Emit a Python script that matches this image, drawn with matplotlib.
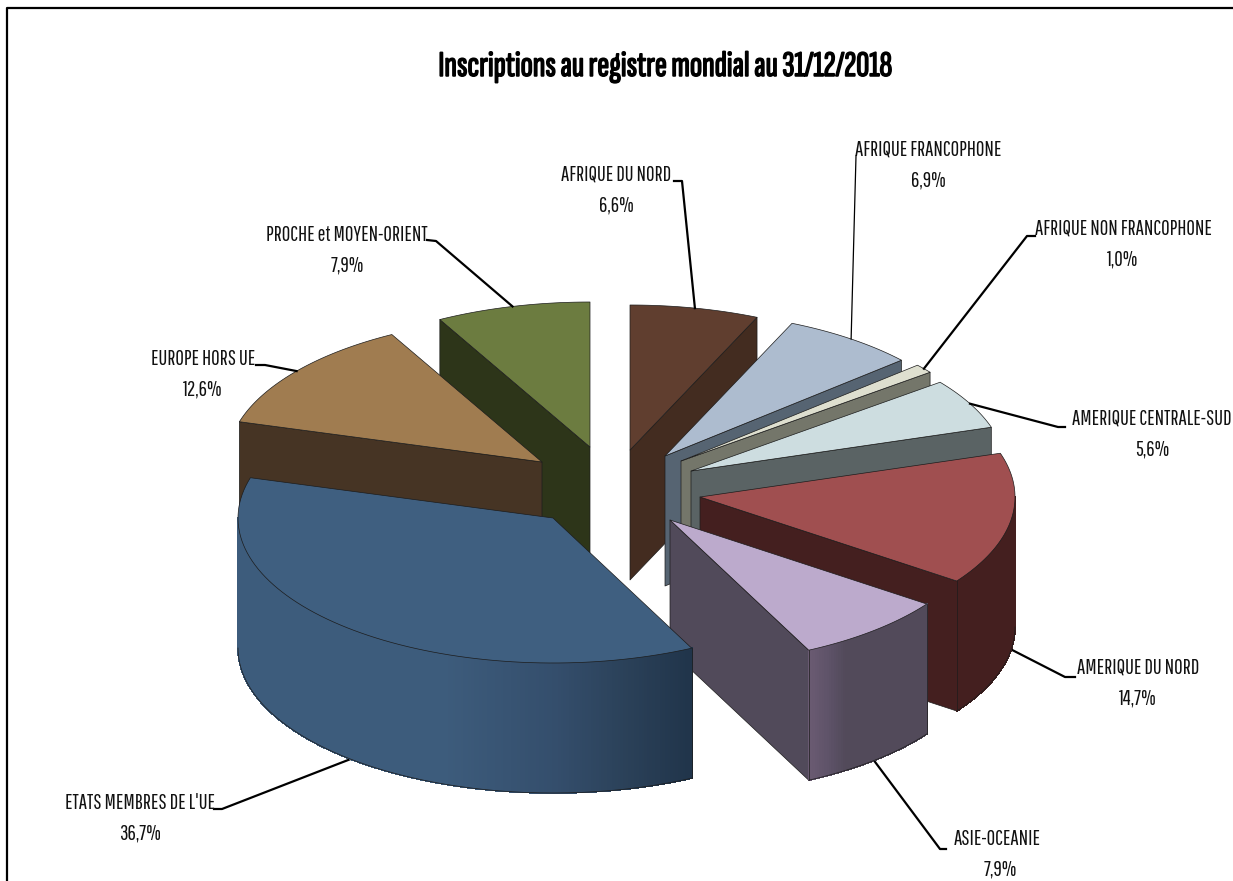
import numpy as np
import matplotlib
matplotlib.use("Agg")
import matplotlib.pyplot as plt
import matplotlib.patheffects as pe
from matplotlib.colors import to_rgb
from matplotlib.patches import Polygon

# Data, clockwise from 12 o'clock
regions = ["AFRIQUE DU NORD", "AFRIQUE FRANCOPHONE", "AFRIQUE NON FRANCOPHONE",
           "AMERIQUE CENTRALE-SUD", "AMERIQUE DU NORD", "ASIE-OCEANIE",
           "ETATS MEMBRES DE L'UE", "EUROPE HORS UE", "PROCHE et MOYEN-ORIENT"]
shares = [6.6, 6.9, 1.0, 5.6, 14.7, 7.9, 36.7, 12.6, 7.9]
share_labels = ["6,6%", "6,9%", "1,0%", "5,6%", "14,7%", "7,9%", "36,7%", "12,6%", "7,9%"]
title = "Inscriptions au registre mondial au 31/12/2018"

# Colours
top_colors = ["#603e2f", "#adbccf", "#dedfcf", "#cddde0", "#a04f50", "#bcaacc",
              "#3f5f80", "#a07c50", "#6c7c40"]
side_colors = ["#432c20", "#566472", "#74766a", "#5a6364", "#441f1f", "#514a5a",
               "#3d5c7c", "#463424", "#2d3519"]

# Layout in picture pixels
RX, RY, DEPTH = 315, 145, 130
apex = [(630, 450), (665, 456), (681, 461), (691, 471), (700, 497), (670, 520),
        (553, 518), (542, 462), (590, 447)]
label_pos = [(616, 175), (928, 150), (1123, 229), (1152, 419), (1138, 668),
             (997, 839), (140, 803), (203, 359), (347, 235)]
elbow = [[(674, 181), (682, 181)], [(856, 156)], [(1035, 236), (1027, 236)],
         [(1065, 427), (1058, 427)], [(1075, 677), (1065, 677)], [(946, 849), (940, 849)],
         [(214, 809), (222, 809)], [(256, 365), (265, 365)], [(427, 240), (436, 241)]]
# gradient stops on the curved walls
gradients = {5: [(0, "#6a5a72"), (0.15, "#5f5369"), (0.3, "#524a5a"), (1, "#524a5a")],
             6: [(0, "#3d5c7c"), (0.45, "#3d5c7c"), (0.7, "#344e6c"), (0.85, "#2b4159"), (1, "#20344a")]}

label_font = ['Pathway Gothic One', 'Liberation Sans', 'DejaVu Sans']
title_font = ['Sofia Sans Extra Condensed', 'Liberation Sans', 'DejaVu Sans']

fig = plt.figure(figsize=(12.33, 8.81), dpi=100)
ax = fig.add_axes([0, 0, 1, 1])
ax.set_xlim(0, 1233)
ax.set_ylim(881, 0)
ax.axis('off')

# Outer frame, runs off the right and bottom of the picture
ax.plot([7, 7, 1233], [881, 8, 8], color="black", lw=1.6, solid_capstyle='butt')


def point(cx, cy, deg, drop=0):
    rad = np.radians(deg)
    return cx + RX * np.sin(rad), cy - RY * np.cos(rad) + drop


def add_face(pts, color, z, edge="#1c1c1c", lw=0.5, aa=True):
    ax.add_patch(Polygon(pts, closed=True, facecolor=color, edgecolor=edge, linewidth=lw,
                         joinstyle='round', zorder=z, antialiased=aa))


def draw_slice(i, a0, a1, z):
    cx, cy = apex[i]
    base = (cx, cy + DEPTH)
    # flat walls, only those turned to the viewer
    if 180 < a0 < 360:
        p = point(cx, cy, a0)
        add_face([(cx, cy), p, (p[0], p[1] + DEPTH), base], side_colors[i], z)
    if 0 < a1 < 180:
        p = point(cx, cy, a1)
        add_face([(cx, cy), p, (p[0], p[1] + DEPTH), base], side_colors[i], z)
    # curved wall, split into strips for the shading
    lo, hi = max(a0, 90), min(a1, 270)
    if hi > lo:
        steps = np.linspace(lo, hi, int((hi - lo) * 2) + 2)
        xs = [point(cx, cy, s)[0] for s in steps]
        xmin, xmax = min(xs), max(xs)
        stops = gradients.get(i)
        for s0, s1 in zip(steps[:-1], steps[1:]):
            p0, p1 = point(cx, cy, s0), point(cx, cy, s1)
            col = side_colors[i]
            if stops:
                frac = ((p0[0] + p1[0]) / 2 - xmin) / (xmax - xmin)
                col = tuple(np.interp(frac, [t[0] for t in stops], [to_rgb(t[1])[k] for t in stops])
                            for k in range(3))
            add_face([p0, p1, (p1[0], p1[1] + DEPTH), (p0[0], p0[1] + DEPTH)], col, z,
                     edge=col, lw=0.6, aa=False)
        arc = [point(cx, cy, s, DEPTH) for s in steps]
        ax.plot([p[0] for p in arc], [p[1] for p in arc], color="#1c1c1c", lw=0.5, zorder=z)
        for s in (lo, hi):
            p = point(cx, cy, s)
            if s in (a0, a1):
                ax.plot([p[0], p[0]], [p[1], p[1] + DEPTH], color="#1c1c1c", lw=0.5, zorder=z)
    # top face
    arc = [point(cx, cy, s) for s in np.linspace(a0, a1, 80)]
    add_face([(cx, cy)] + arc, top_colors[i], z + 0.5)


# Angles from the shares
edges = np.concatenate([[0], np.cumsum(shares)]) / sum(shares) * 360
mids = (edges[:-1] + edges[1:]) / 2

# Back slices first
order = sorted(range(len(shares)), key=lambda k: -np.cos(np.radians(mids[k])))
for z, i in enumerate(order):
    draw_slice(i, edges[i], edges[i + 1], 2 + z)

# Labels with leader lines
for i, name in enumerate(regions):
    x, y = label_pos[i]
    ax.text(x, y, name, fontsize=15, family=label_font, ha='center', va='center', color="#111111", zorder=30)
    ax.text(x + (3 if i == 5 else 0), y + 30, share_labels[i], fontsize=15, family=label_font, ha='center', va='center', color="#111111", zorder=30)
    cx, cy = apex[i]
    # front slices take the line on the foot of the wall
    drop = DEPTH if 90 < mids[i] < 270 else 0
    end = point(cx, cy, mids[i], drop)
    pts = elbow[i] + [end]
    ax.plot([p[0] for p in pts], [p[1] for p in pts], color="black", lw=0.9 if i == 1 else 1.6,
            zorder=1.5 if drop else 30)

# the title font only comes in one weight here, so thicken it with a stroke
ax.text(665, 67, title, fontsize=26, family=title_font, ha='center', va='center', color="black",
        path_effects=[pe.withStroke(linewidth=1.1, foreground="black")])

fig.savefig("out.png", dpi=100)
